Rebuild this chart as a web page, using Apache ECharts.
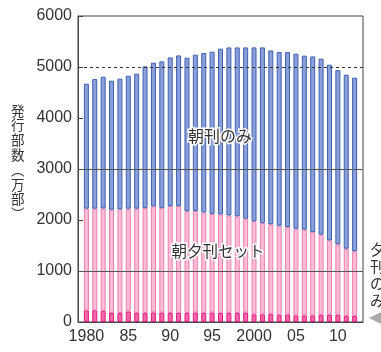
<!DOCTYPE html>
<html><head><meta charset="utf-8">
<script src="https://cdn.jsdelivr.net/npm/echarts@6/dist/echarts.min.js"></script>
<style>html,body{margin:0;padding:0;background:#fff}#c{width:381px;height:352px}</style>
</head><body><div id="c"></div>
<script>
const years = ['1979','1980','1981','1982','1983','1984','1985','1986','1987','1988','1989','1990','1991','1992','1993','1994','1995','1996','1997','1998','1999','2000','2001','2002','2003','2004','2005','2006','2007','2008','2009','2010','2011','2012','2013'];
const eveningOnly = ['-',227,229,220,175,175,208,175,175,188,188,175,180,175,188,180,188,180,180,175,188,149,149,162,143,149,129,129,129,143,143,143,123,123,'-'];
const morningEveningSet = ['-',1995,1993,2007,2027,2033,2014,2047,2058,2079,2045,2098,2093,1994,1988,1969,1932,1930,1910,1896,1837,1824,1790,1752,1745,1712,1700,1681,1634,1569,1457,1379,1314,1261,'-'];
const morningOnly = ['-',2451,2541,2583,2529,2563,2607,2647,2779,2817,2877,2915,2954,3013,3065,3124,3180,3249,3294,3313,3359,3411,3445,3411,3404,3431,3432,3412,3445,3451,3445,3417,3412,3406,'-'];
const xTickYears = ['1980','1985','1990','1995','2000','2005','2010'];
const xTickLabels = ['1980','85','90','95','2000','05','10'];
const seriesNames = ['夕刊のみ','朝夕刊セット','朝刊のみ'];

const chart = echarts.init(document.getElementById('c'), null, {renderer:'canvas'});
const fontNum = 'Liberation Sans, Arial, sans-serif';
const fontJP = '"Noto Sans CJK JP", sans-serif';
const txt = '#333';
chart.setOption({
  animation:false,
  grid:{left:78,right:18,top:16,bottom:30,show:true,borderColor:'#444',borderWidth:1,backgroundColor:'transparent'},
  xAxis:{type:'category',data:years,boundaryGap:false,
    axisLine:{show:true,lineStyle:{color:'#444',width:1}},
    axisTick:{show:false},splitLine:{show:false},
    axisLabel:{interval:(i,v)=>xTickYears.indexOf(v)>=0,formatter:v=>xTickLabels[xTickYears.indexOf(v)]||'',
      fontSize:16,color:txt,fontFamily:fontNum,margin:7}},
  yAxis:{type:'value',min:0,max:6000,interval:1000,
    axisLine:{show:true,lineStyle:{color:'#444',width:1}},
    axisTick:{show:true,inside:true,length:5,lineStyle:{color:'#444'}},
    splitLine:{show:false},
    axisLabel:{fontSize:16,color:txt,fontFamily:fontNum,margin:6,formatter:v=>String(v)}},
  series:[
    {type:'line',data:[],z:0,silent:true,
      markLine:{silent:true,symbol:'none',label:{show:false},
        lineStyle:{color:'#333',type:[3,3],width:1},data:[{yAxis:5000}]}},
    {name:seriesNames[0],type:'bar',stack:'t',barWidth:5,data:eveningOnly,z:2,
      itemStyle:{color:'#f06aa8',borderColor:'#e3177f',borderWidth:1}},
    {name:seriesNames[1],type:'bar',stack:'t',barWidth:5,data:morningEveningSet,z:2,
      itemStyle:{color:'#f9bdd6',borderColor:'#f07db1',borderWidth:1}},
    {name:seriesNames[2],type:'bar',stack:'t',barWidth:5,data:morningOnly,z:2,
      itemStyle:{color:'#8c9fd6',borderColor:'#3e61b5',borderWidth:1}},
    {type:'line',data:[],z:5,silent:true,
      markLine:{silent:true,symbol:'none',label:{show:false},
        lineStyle:{color:'#555',type:'solid',width:1.2},data:[{yAxis:3000},{yAxis:1000}]}}
  ],
  graphic:[
    {type:'text',left:11,top:103,z:10,style:{text:'発\n行\n部\n数\n︵\n万\n部\n︶',fontSize:13.5,lineHeight:14.8,fill:txt,fontFamily:fontJP,align:'center'}},
    {type:'text',x:220,y:136,z:10,style:{text:'朝刊のみ',fontSize:16,fill:txt,fontFamily:fontJP,align:'center',verticalAlign:'middle',stroke:'#fff',lineWidth:3}},
    {type:'text',x:218,y:251,z:10,style:{text:'朝夕刊セット',fontSize:15.5,fill:txt,fontFamily:fontJP,align:'center',verticalAlign:'middle',stroke:'#fff',lineWidth:3}},
    {type:'text',x:370,y:241,z:10,style:{text:'夕\n刊\nの\nみ',fontSize:15,lineHeight:17,fill:txt,fontFamily:fontJP,align:'left'}},
    {type:'polygon',z:10,shape:{points:[[369,318],[381,312],[381,324]]},style:{fill:'#aaa'}}
  ]
});
</script></body></html>
